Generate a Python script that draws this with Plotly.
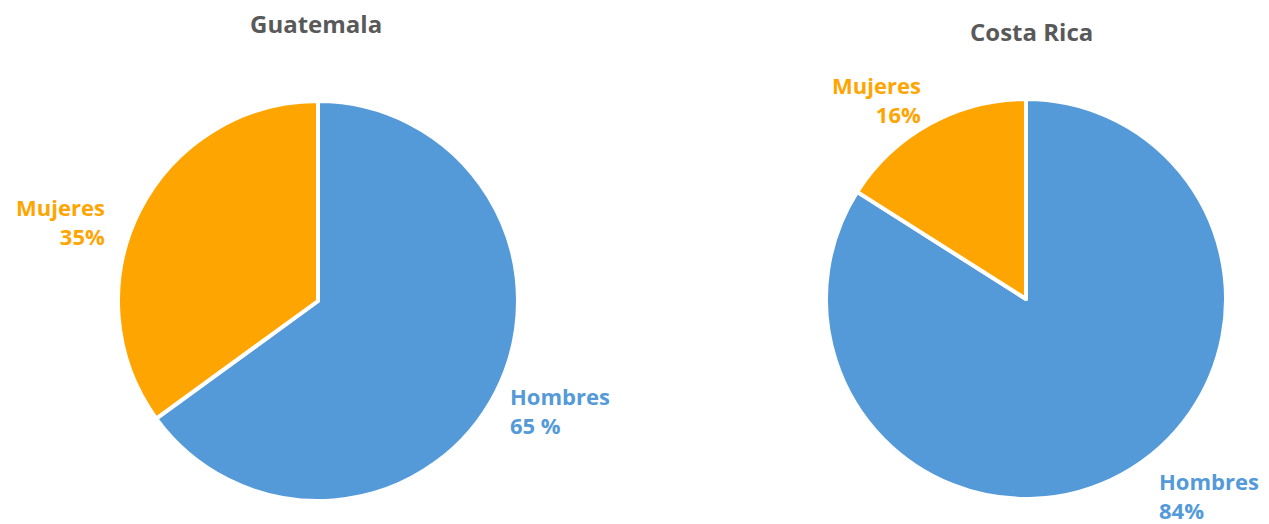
import plotly.graph_objects as go

countries = ["Guatemala", "Costa Rica"]
labels = ["Hombres", "Mujeres"]
guatemala = [65, 35]
costa_rica = [84, 16]
pct_text = {
    "Guatemala": ["65 %", "35%"],
    "Costa Rica": ["84%", "16%"],
}

BLUE = "#549ad9"
ORANGE = "#ffa502"
TITLE = "#595959"
FONT = "'Open Sans', Roboto, Arial, sans-serif"
W, H = 1269, 524

fig = go.Figure()
domains = [
    {"x": [118 / W, 518 / W], "y": [1 - 501 / H, 1 - 101 / H]},
    {"x": [826 / W, 1226 / W], "y": [1 - 499 / H, 1 - 99 / H]},
]
for name, vals, dom in zip(countries, [guatemala, costa_rica], domains):
    fig.add_trace(go.Pie(
        labels=labels,
        values=vals,
        sort=False,
        direction="clockwise",
        rotation=0,
        textinfo="none",
        marker={"colors": [BLUE, ORANGE], "line": {"color": "white", "width": 4}},
        domain=dom,
        name=name,
        showlegend=False,
    ))


def px(x, y):
    return x / W, 1 - y / H


annots = [
    # titles
    (countries[0], 316, 24, "center", TITLE, "center"),
    (countries[1], 1031, 32, "center", TITLE, "center"),
    # slice labels
    (f"{labels[1]}<br>{pct_text['Guatemala'][1]}", 107, 221, "right", ORANGE, "right"),
    (f"{labels[0]}<br>{pct_text['Guatemala'][0]}", 508, 410, "left", BLUE, "left"),
    (f"{labels[1]}<br>{pct_text['Costa Rica'][1]}", 923, 99, "right", ORANGE, "right"),
    (f"{labels[0]}<br>{pct_text['Costa Rica'][0]}", 1157, 495, "left", BLUE, "left"),
]
for text, x, y, xa, color, align in annots:
    ax, ay = px(x, y)
    fig.add_annotation(
        text=f"<b>{text}</b>", x=ax, y=ay, xref="paper", yref="paper",
        xanchor=xa, yanchor="middle", align=align, showarrow=False,
        font={"size": 24 if color == TITLE else 22, "color": color, "family": FONT},
    )

fig.update_layout(
    width=W, height=H,
    margin={"l": 0, "r": 0, "t": 0, "b": 0},
    paper_bgcolor="white", plot_bgcolor="white",
    font={"family": FONT},
)
# drop the default body margin so the figure sits at the window's corner
fig.write_html(
    "out.html",
    config={"displayModeBar": False},
    post_script="document.body.style.margin='0';",
)
